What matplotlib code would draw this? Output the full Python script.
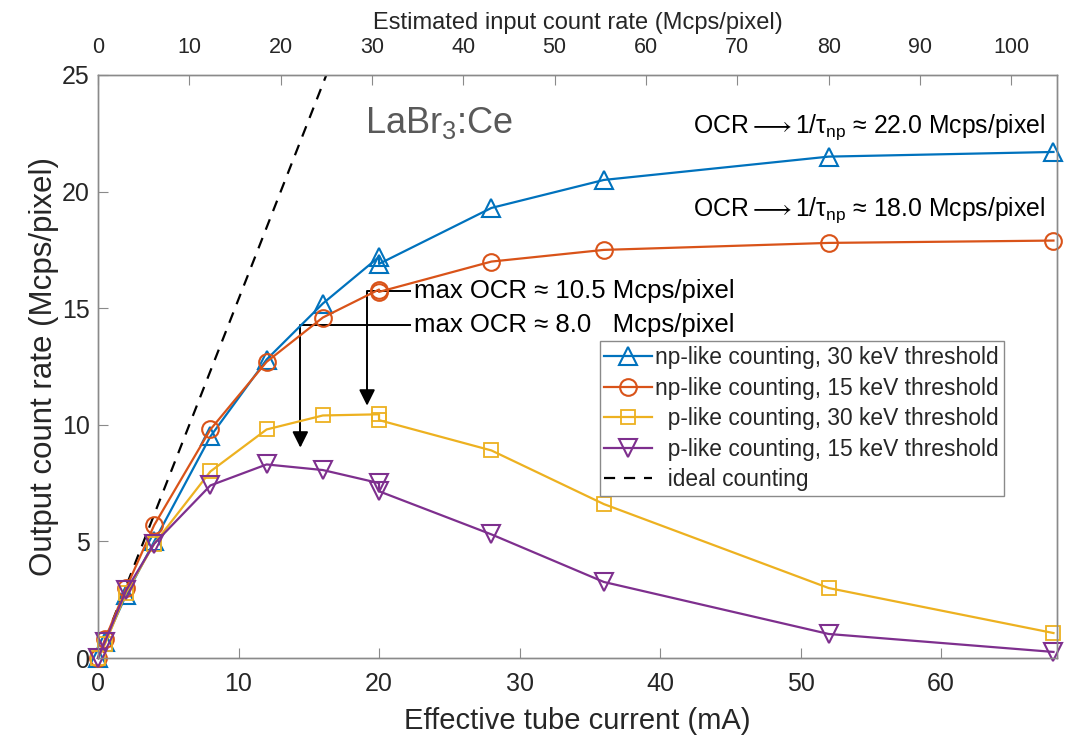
import matplotlib
matplotlib.use("Agg")
import matplotlib.pyplot as plt

plt.rcParams['font.family'] = ['Liberation Sans', 'DejaVu Sans']
plt.rcParams['mathtext.fontset'] = 'custom'
plt.rcParams['mathtext.rm'] = 'Liberation Sans'
plt.rcParams['mathtext.it'] = 'Liberation Sans:italic'
plt.rcParams['mathtext.fallback'] = 'stixsans'

# effective tube current (mA), two measurements at 20 mA
current = [0, 0.5, 2, 4, 8, 12, 16, 20, 20, 28, 36, 52, 68]

np_30kev = [0, 0.7, 2.7, 5.0, 9.5, 12.8, 15.2, 17.2, 16.9, 19.3, 20.5, 21.5, 21.7]
np_15kev = [0, 0.8, 3.0, 5.7, 9.8, 12.7, 14.6, 15.8, 15.7, 17.0, 17.5, 17.8, 17.9]
p_30kev = [0, 0.6, 2.8, 4.9, 8.0, 9.8, 10.4, 10.45, 10.2, 8.9, 6.6, 3.0, 1.07]
p_15kev = [0, 0.7, 2.9, 4.9, 7.4, 8.3, 8.06, 7.5, 7.15, 5.3, 3.26, 1.03, 0.26]

ideal_x = [0, 16.25]
ideal_y = [0, 25]

labels = ['np-like counting, 30 keV threshold',
          'np-like counting, 15 keV threshold',
          '  p-like counting, 30 keV threshold',
          '  p-like counting, 15 keV threshold',
          '  ideal counting']
colors = ['#0072BD', '#D95319', '#EDB120', '#7E2F8E']
axcol = '#262626'
spcol = '#8a8a8a'

fig = plt.figure(figsize=(10.74, 7.39), dpi=100)
ax = fig.add_axes([98 / 1074, 81 / 739, 959 / 1074, 583 / 739])

ax.plot(current, np_30kev, '-^', color=colors[0], lw=1.6, ms=13, mew=1.5,
        fillstyle='none', clip_on=False, zorder=4, label=labels[0])
ax.plot(current, np_15kev, '-o', color=colors[1], lw=1.6, ms=12, mew=1.5,
        fillstyle='none', clip_on=False, zorder=4, label=labels[1])
ax.plot(current, p_30kev, '-s', color=colors[2], lw=1.6, ms=10, mew=1.3,
        fillstyle='none', clip_on=False, zorder=4, label=labels[2])
ax.plot(current, p_15kev, '-v', color=colors[3], lw=1.6, ms=13, mew=1.5,
        fillstyle='none', clip_on=False, zorder=4, label=labels[3])
ax.plot(ideal_x, ideal_y, color='black', lw=1.6, dashes=(5, 4),
        label=labels[4])

ax.set_xlim(0, 68.25)
ax.set_ylim(0, 25)
ax.set_xticks(range(0, 70, 10))
ax.set_yticks(range(0, 30, 5))
ax.tick_params(direction='in', labelsize=18, length=7, color=spcol,
               labelcolor=axcol, right=False)
ax.tick_params(axis='x', pad=10)
ax.tick_params(axis='y', pad=6)
ax.set_xlabel('Effective tube current (mA)', fontsize=21, color=axcol,
              labelpad=8)
ax.set_ylabel('Output count rate (Mcps/pixel)', fontsize=22.5, color=axcol,
              labelpad=2)
for s in ax.spines.values():
    s.set_color(spcol)
    s.set_linewidth(1.0)

top = ax.twiny()
top.set_xlim(0, 105)
top.set_xticks(range(0, 110, 10))
top.tick_params(direction='in', labelsize=15.5, length=7, color=spcol,
                labelcolor=axcol, pad=12)
top.set_xlabel('Estimated input count rate (Mcps/pixel)', fontsize=17,
               color=axcol, labelpad=6)
for s in top.spines.values():
    s.set_color(spcol)
    s.set_linewidth(1.0)

# annotations
ax.text(19.0, 22.95, r'LaBr$_3$:Ce', fontsize=26, color='#595959',
        ha='left', va='center')
ax.text(67.4, 22.75, r'OCR$\longrightarrow$1/τ$_{\mathrm{np}}$ ≈ 22.0 Mcps/pixel',
        fontsize=17.8, color='black', ha='right', va='center')
ax.text(67.4, 19.2, r'OCR$\longrightarrow$1/τ$_{\mathrm{np}}$ ≈ 18.0 Mcps/pixel',
        fontsize=17.8, color='black', ha='right', va='center')
ax.text(22.5, 15.75, 'max OCR ≈ 10.5 Mcps/pixel', fontsize=18.5,
        ha='left', va='center')
ax.text(22.5, 14.3, 'max OCR ≈ 8.0   Mcps/pixel', fontsize=18.5,
        ha='left', va='center')

ax.plot([22.2, 19.15, 19.15], [15.75, 15.75, 11.4], color='black', lw=1.4)
ax.annotate('', xy=(19.15, 10.7), xytext=(19.15, 11.6),
            arrowprops=dict(arrowstyle='-|>', color='black', lw=1.4,
                            mutation_scale=24))
ax.plot([22.2, 14.4, 14.4], [14.3, 14.3, 9.6], color='black', lw=1.4)
ax.annotate('', xy=(14.4, 8.9), xytext=(14.4, 9.8),
            arrowprops=dict(arrowstyle='-|>', color='black', lw=1.4,
                            mutation_scale=24))

leg = ax.legend(loc='upper left', bbox_to_anchor=(0.523, 0.543), fontsize=16.4,
                frameon=True, fancybox=False, edgecolor=spcol, framealpha=1,
                handlelength=2.1, handletextpad=0.15, borderpad=0.2,
                labelspacing=0.33, borderaxespad=0)
leg.get_frame().set_linewidth(1.0)
for t in leg.get_texts():
    t.set_color(axcol)

fig.savefig('out.png', dpi=100)
